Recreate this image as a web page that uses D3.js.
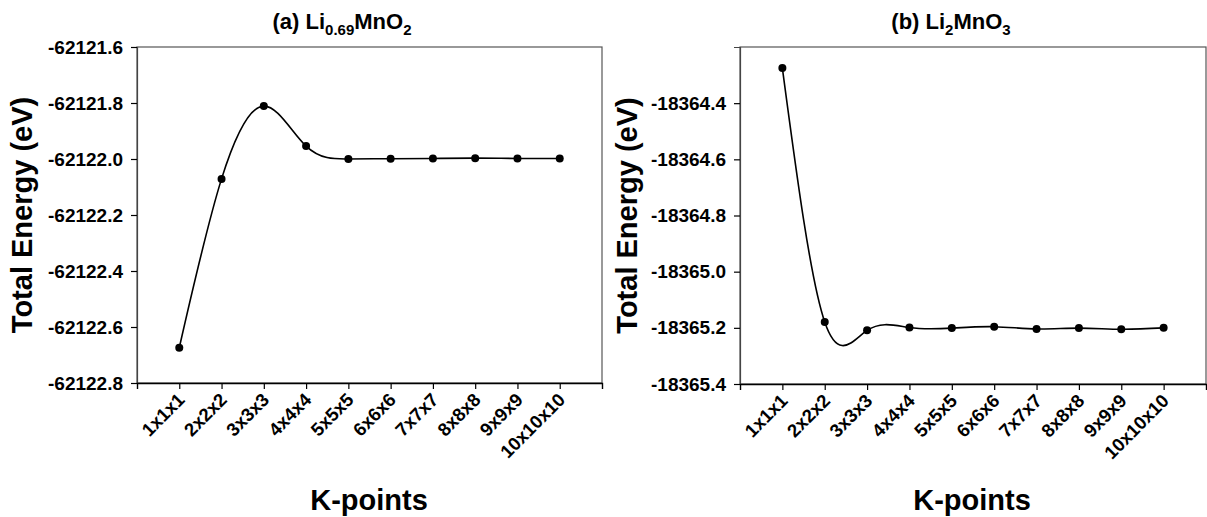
<!DOCTYPE html>
<html>
<head>
<meta charset="utf-8">
<script src="https://cdn.jsdelivr.net/npm/d3@7"></script>
<style>
  body { margin: 0; background: #fff; }
  svg text { font-family: "Liberation Sans", Arial, sans-serif; font-weight: bold; fill: #000; }
</style>
</head>
<body>
<svg id="chart" width="1207" height="517"></svg>
<script>
// k-point meshes on the x axis (same for both panels)
const kPoints = ["1x1x1", "2x2x2", "3x3x3", "4x4x4", "5x5x5",
  "6x6x6", "7x7x7", "8x8x8", "9x9x9", "10x10x10"];

// total energies (eV)
const energyLi069MnO2 = [-62122.674, -62122.071, -62121.811, -62121.954, -62122.000,
  -62121.999, -62121.998, -62121.997, -62121.998, -62121.998];
const energyLi2MnO3 = [-18364.275, -18365.179, -18365.209, -18365.199, -18365.201,
  -18365.196, -18365.204, -18365.201, -18365.205, -18365.200];

// y tick labels
const ticksLi069MnO2 = [-62121.6, -62121.8, -62122.0, -62122.2, -62122.4, -62122.6, -62122.8];
const ticksLi2MnO3 = [-18364.4, -18364.6, -18364.8, -18365.0, -18365.2, -18365.4];

const panels = [
  {
    values: energyLi069MnO2, ticks: ticksLi069MnO2, yDomain: [-62122.8, -62121.6],
    title: [["(a) Li", 0], ["0.69", 1], ["MnO", 0], ["2", 1]],
    left: 137, right: 602, top: 47, bottom: 383,
    titleX: 342, yLabelX: 32, xLabelX: 369
  },
  {
    values: energyLi2MnO3, ticks: ticksLi2MnO3, yDomain: [-18365.4, -18364.2],
    title: [["(b) Li", 0], ["2", 1], ["MnO", 0], ["3", 1]],
    left: 740, right: 1206, top: 47, bottom: 384,
    titleX: 951, yLabelX: 637, xLabelX: 972
  }
];

// plain hyphen for the minus sign, like the original
const fmt = d3.formatLocale({ decimal: ".", thousands: ",", grouping: [3], currency: ["", ""], minus: "-" }).format(".1f");

const svg = d3.select("#chart");

panels.forEach(function (p) {
  const x = d3.scalePoint().domain(kPoints).range([p.left, p.right]).padding(1);
  const y = d3.scaleLinear().domain(p.yDomain).range([p.bottom, p.top]);

  // frame
  svg.append("rect")
    .attr("x", p.left).attr("y", p.top)
    .attr("width", p.right - p.left).attr("height", p.bottom - p.top)
    .attr("fill", "none").attr("stroke", "#555").attr("stroke-width", 1.2);

  const yAxis = svg.append("g")
    .attr("transform", "translate(" + p.left + ",0)")
    .call(d3.axisLeft(y).tickValues(p.ticks).tickSize(6).tickPadding(8).tickFormat(fmt));
  yAxis.select(".domain").attr("stroke", "#444").attr("stroke-width", 1.2);
  yAxis.selectAll("line").attr("stroke", "#000").attr("stroke-width", 1.2);
  yAxis.selectAll("text").style("font-size", "19px");

  const xAxis = svg.append("g")
    .attr("transform", "translate(0," + p.bottom + ")")
    .call(d3.axisBottom(x).tickSize(6));
  xAxis.select(".domain").attr("stroke", "#000").attr("stroke-width", 1.4);
  xAxis.selectAll("line").attr("stroke", "#000").attr("stroke-width", 1.2);
  xAxis.selectAll("text")
    .attr("x", null).attr("y", null).attr("dy", null)
    .attr("transform", "translate(6,18) rotate(-45)")
    .style("text-anchor", "end")
    .style("font-size", "18.5px");

  const line = d3.line()
    .x(function (d, i) { return x(kPoints[i]); })
    .y(function (d) { return y(d); })
    .curve(d3.curveNatural);

  svg.append("path")
    .datum(p.values)
    .attr("d", line)
    .attr("fill", "none")
    .attr("stroke", "#000")
    .attr("stroke-width", 1.6);

  svg.selectAll(null)
    .data(p.values)
    .enter()
    .append("circle")
    .attr("cx", function (d, i) { return x(kPoints[i]); })
    .attr("cy", function (d) { return y(d); })
    .attr("r", 4)
    .attr("fill", "#000");

  // title with subscripts
  const t = svg.append("text")
    .attr("x", p.titleX).attr("y", 29)
    .attr("text-anchor", "middle")
    .style("font-size", "22px");
  p.title.forEach(function (part, i) {
    t.append("tspan")
      .text(part[0])
      .attr("dy", part[1] ? 6 : (i > 0 ? -6 : 0))
      .style("font-size", part[1] ? "15px" : "22px");
  });

  svg.append("text")
    .attr("transform", "translate(" + p.yLabelX + "," + ((p.top + p.bottom) / 2) + ") rotate(-90)")
    .attr("text-anchor", "middle")
    .style("font-size", "29px")
    .text("Total Energy (eV)");

  svg.append("text")
    .attr("x", p.xLabelX).attr("y", 510)
    .attr("text-anchor", "middle")
    .style("font-size", "29px")
    .text("K-points");
});
</script>
</body>
</html>
